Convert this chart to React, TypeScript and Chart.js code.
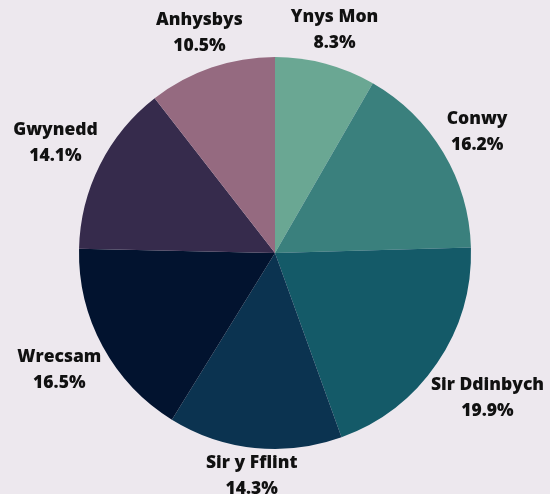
import React, { useEffect, useRef } from "react";
import { Chart, registerables } from "chart.js";

Chart.register(...registerables);

const categories = ["Ynys Mon", "Conwy", "Sir Ddinbych", "Sir y Fflint", "Wrecsam", "Gwynedd", "Anhysbys"];
const shares = [8.3, 16.2, 19.9, 14.3, 16.5, 14.1, 10.5];
const colors = ["#6aa793", "#3a807d", "#145a68", "#0b3350", "#02132f", "#362b4c", "#956a80"];

const BG = "#ede8ee";
const FONT = "800 17.5px 'Open Sans', 'DejaVu Sans', sans-serif";

const outsideLabels = {
  id: "outsideLabels",
  afterDatasetsDraw(chart: any) {
    const ctx = chart.ctx;
    const meta = chart.getDatasetMeta(0);
    ctx.save();
    ctx.font = FONT;
    ctx.fillStyle = "#111111";
    ctx.textAlign = "center";
    ctx.textBaseline = "middle";
    const lineH = 26;
    meta.data.forEach((arc: any, i: number) => {
      const p = arc.getProps(["x", "y", "startAngle", "endAngle", "outerRadius"], true);
      const mid = (p.startAngle + p.endAngle) / 2;
      const ux = Math.cos(mid);
      const uy = Math.sin(mid);
      const l1 = categories[i];
      const l2 = shares[i].toFixed(1) + "%";
      const w = Math.max(ctx.measureText(l1).width, ctx.measureText(l2).width);
      const h = lineH * 2 - 8;
      const extra = Math.abs(ux) * w / 2 + Math.abs(uy) * h / 2;
      const d = p.outerRadius + 2 + extra;
      const cx = p.x + ux * d;
      const cy = p.y + uy * d;
      ctx.fillText(l1, cx, cy - lineH / 2);
      ctx.fillText(l2, cx, cy + lineH / 2);
    });
    ctx.restore();
  },
};

const bgPlugin = {
  id: "bgFill",
  beforeDraw(chart: any) {
    const ctx = chart.ctx;
    ctx.save();
    ctx.fillStyle = BG;
    ctx.fillRect(0, 0, chart.width, chart.height);
    ctx.restore();
  },
};

export default function App() {
  const ref = useRef<HTMLCanvasElement | null>(null);
  useEffect(() => {
    document.body.style.margin = "0";
    document.body.style.background = BG;
    if (!ref.current) return;
    const chart = new Chart(ref.current, {
      type: "pie",
      data: {
        labels: categories,
        datasets: [
          {
            data: shares,
            backgroundColor: colors,
            borderWidth: 0,
          },
        ],
      },
      options: {
        responsive: false,
        animation: false,
        layout: { padding: { top: 57, bottom: 45, left: 79, right: 79 } },
        plugins: {
          legend: { display: false },
          tooltip: { enabled: false },
        },
      },
      plugins: [bgPlugin, outsideLabels],
    });
    return () => chart.destroy();
  }, []);
  return (
    <div style={{ width: 550, height: 494 }}>
      <canvas ref={ref} width={550} height={494} style={{ display: "block" }} />
    </div>
  );
}
